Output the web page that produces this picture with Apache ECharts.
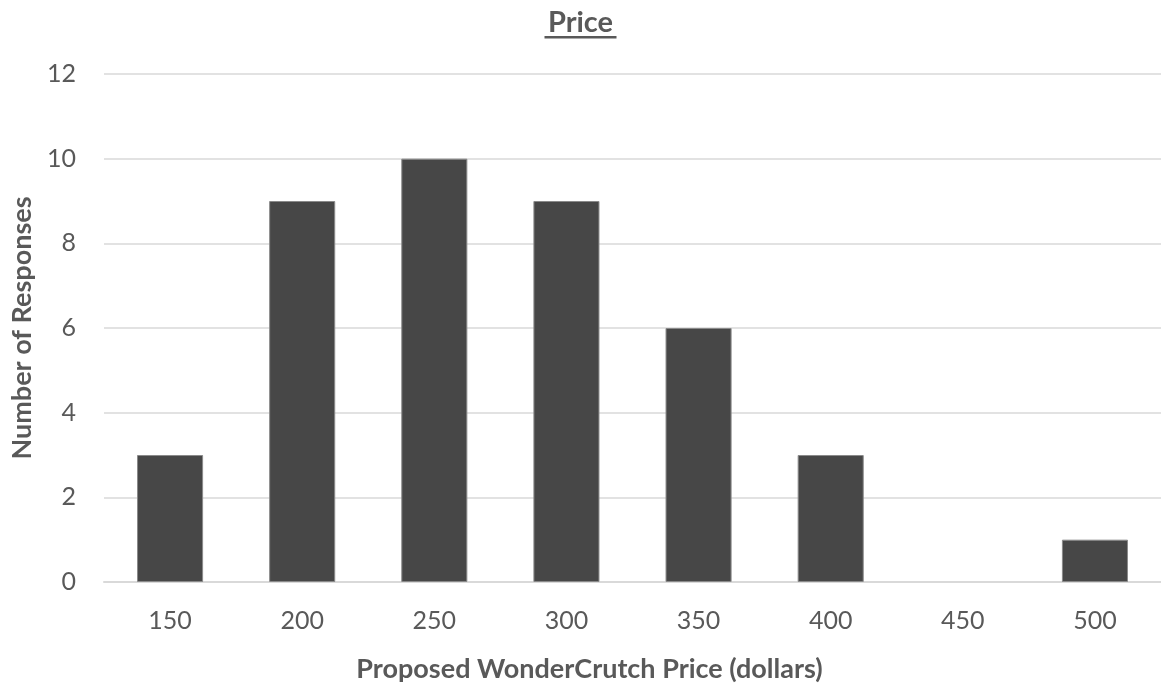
<!DOCTYPE html>
<html>
<head>
<meta charset="utf-8">
<script src="https://cdn.jsdelivr.net/npm/echarts@6/dist/echarts.min.js"></script>
<style>
  html, body { margin: 0; padding: 0; background: #ffffff; }
  #chart { width: 1161px; height: 689px; }
</style>
</head>
<body>
<div id="chart"></div>
<script>
// Survey responses by proposed price point
const priceCategories = ['150', '200', '250', '300', '350', '400', '450', '500'];
const responseCounts = [3, 9, 10, 9, 6, 3, 0, 1];
const yTicks = { min: 0, max: 12, interval: 2 };

const textColor = '#595959';
const fontFamily = 'Lato, "Open Sans", sans-serif';

// zero-height bars get no outline so nothing shows on the baseline
const barData = responseCounts.map(v => ({
  value: v,
  itemStyle: v === 0 ? { borderWidth: 0 } : {}
}));

const chart = echarts.init(document.getElementById('chart'));
chart.setOption({
  animation: false,
  backgroundColor: '#ffffff',
  title: {
    text: 'Price',
    left: 'center',
    top: 3,
    textStyle: { color: textColor, fontSize: 29, fontWeight: 'bold', fontFamily: fontFamily }
  },
  graphic: [{
    // underline beneath the title
    type: 'rect',
    left: 'center',
    top: 36,
    shape: { width: 72, height: 2.5 },
    style: { fill: textColor }
  }],
  grid: { left: 104, right: 0, top: 74, bottom: 107, outerBoundsMode: 'none', containLabel: false },
  xAxis: {
    type: 'category',
    data: priceCategories,
    name: 'Proposed WonderCrutch Price (dollars)',
    nameLocation: 'middle',
    nameGap: 74,
    // the name sits centred on the whole chart rather than on the plot area
    nameTextStyle: {
      color: textColor, fontSize: 27, fontWeight: 'bold', fontFamily: fontFamily,
      padding: [0, 86, 0, 0]
    },
    axisLine: { show: true, lineStyle: { color: '#d9d9d9', width: 2 } },
    axisTick: { show: false },
    axisLabel: { color: textColor, fontSize: 25, margin: 26, fontFamily: fontFamily }
  },
  yAxis: {
    type: 'value',
    min: yTicks.min,
    max: yTicks.max,
    interval: yTicks.interval,
    name: 'Number of Responses',
    nameLocation: 'middle',
    nameGap: 68,
    nameRotate: 90,
    nameTextStyle: { color: textColor, fontSize: 27, fontWeight: 'bold', fontFamily: fontFamily },
    axisLine: { show: false },
    axisTick: { show: false },
    axisLabel: { color: textColor, fontSize: 25, margin: 28, fontFamily: fontFamily },
    splitLine: { lineStyle: { color: '#d9d9d9', width: 1.5 } }
  },
  series: [{
    type: 'bar',
    data: barData,
    barWidth: '50%',
    itemStyle: { color: '#474747', borderColor: '#8a8a8a', borderWidth: 1 }
  }]
});
</script>
</body>
</html>
